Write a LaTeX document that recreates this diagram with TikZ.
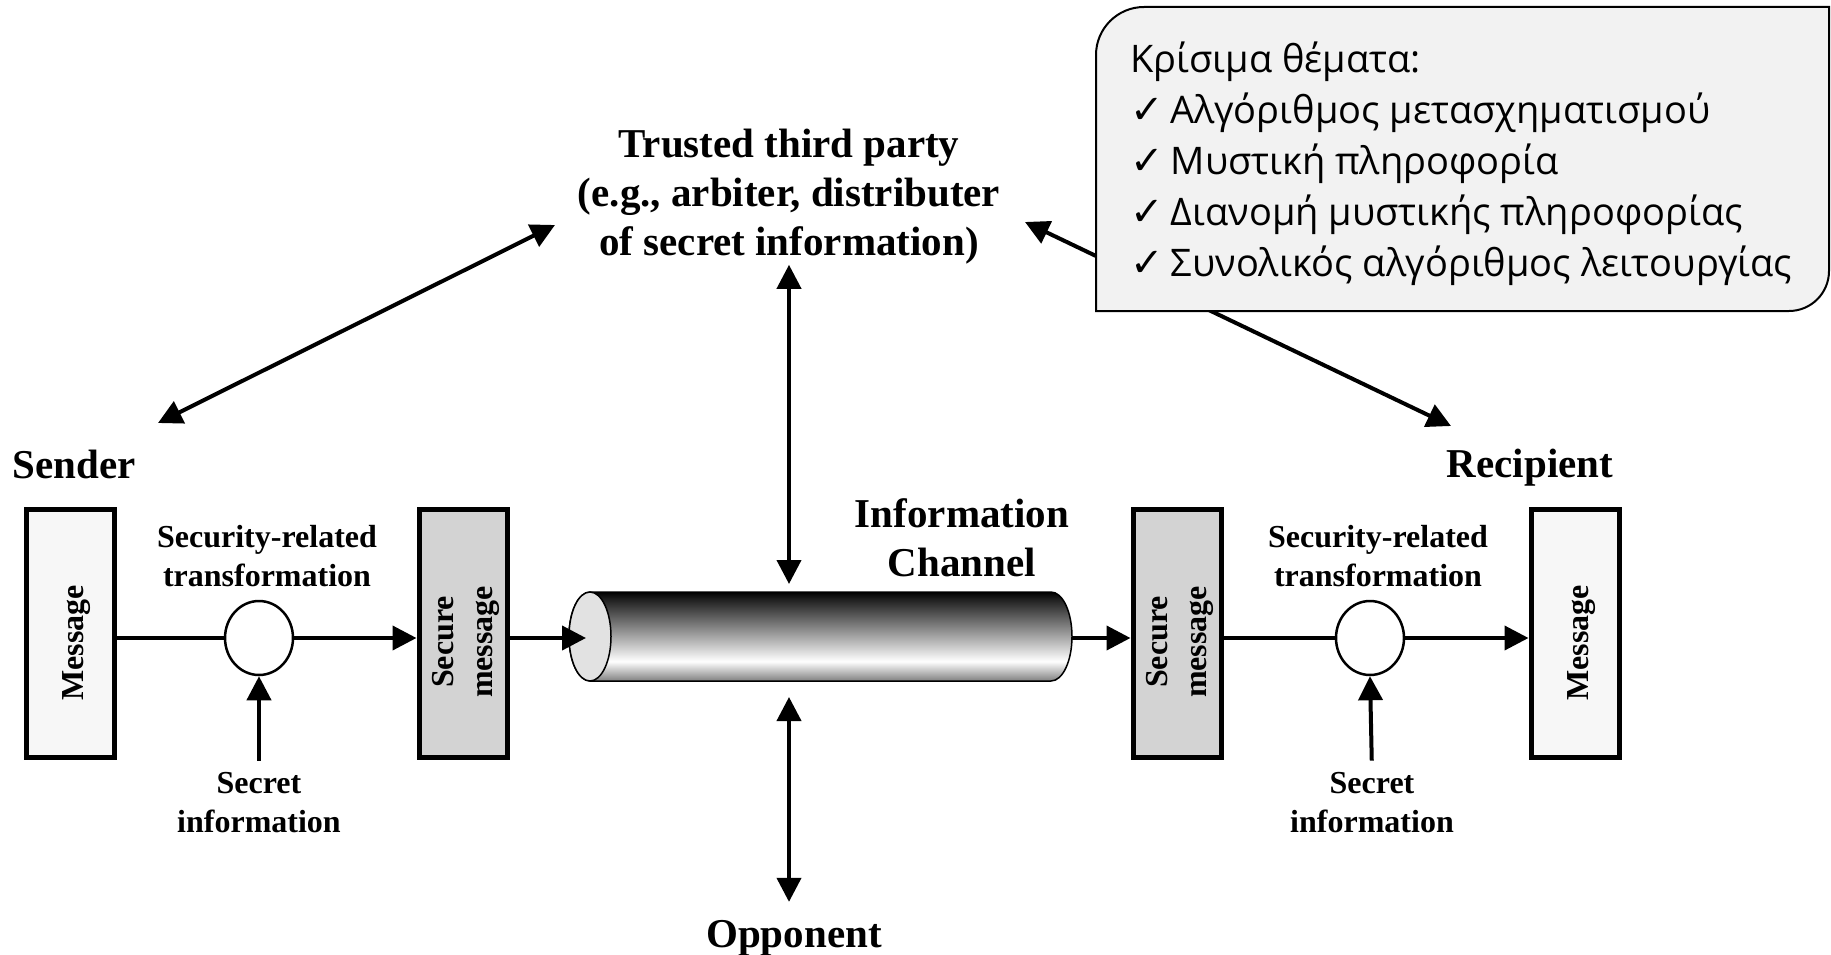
\documentclass[tikz,border=0pt]{standalone}
\usepackage{fontspec}
\setmainfont{Liberation Serif}
\newfontfamily\grkfont{Open Sans}
\newfontfamily\symfont{DejaVu Sans}
\usetikzlibrary{arrows.meta,shapes.geometric}
\definecolor{msgfill}{HTML}{F7F7F7}
\definecolor{smfill}{HTML}{D3D3D3}
\definecolor{callfill}{HTML}{F2F2F2}
\definecolor{facefill}{HTML}{E2E2E2}
\pgfdeclareverticalshading{cylshade}{100bp}{color(0bp)=(black!50); color(25bp)=(black!50); color(36bp)=(white); color(40bp)=(white!90!black); color(71bp)=(black!88); color(75bp)=(black); color(100bp)=(black)}
\newcommand{\ck}{{\symfont\fontsize{40}{40}\selectfont ✓}\hspace{7pt}}
\begin{document}
\begin{tikzpicture}[x=1pt,y=-1pt,
  big/.style={font=\fontsize{41}{49}\selectfont\bfseries, align=center, inner sep=0pt},
  small/.style={font=\fontsize{32}{39}\selectfont\bfseries, align=center, inner sep=0pt},
  vtext/.style={small, rotate=90},
  msgbox/.style={draw, line width=5pt, minimum width=88pt, minimum height=248pt, inner sep=0pt},
  xform/.style={draw, ellipse, line width=2.5pt, fill=white, minimum width=68pt, minimum height=74pt, inner sep=0pt},
  conn/.style={line width=4pt},
  arr/.style={conn, -{Triangle[length=24pt,width=24pt]}},
  darr/.style={conn, {Triangle[length=24pt,width=24pt]}-{Triangle[length=24pt,width=24pt]}}
]
\useasboundingbox (0,0) rectangle (1831,955);

% titles
\node[big] (ttp) at (789,197) {Trusted third party\\(e.g., arbiter, distributer\\of secret information)};
\node[big] (sender) at (74,464) {Sender};
\node[big] (recip) at (1530,468) {Recipient};
\node[big] (chan) at (962,538) {Information\\Channel};
\node[big] (opp) at (794,938) {Opponent};

% sender side
\node[msgbox, fill=msgfill] (m1) at (70,633) {};
\node[vtext] (m1t) at (77,643) {Message};
\node[msgbox, fill=smfill] (sm1) at (463,633) {};
\node[vtext] (sm1t) at (466,642) {Secure\\message};
\node[xform] (t1) at (259,638) {};
\node[small] (sr1) at (267,556) {Security-related\\transformation};
\node[small] (si1) at (259,803) {Secret\\information};

% recipient side
\node[msgbox, fill=smfill] (sm2) at (1177,633) {};
\node[vtext] (sm2t) at (1180,642) {Secure\\message};
\node[msgbox, fill=msgfill] (m2) at (1575,633) {};
\node[vtext] (m2t) at (1582,643) {Message};
\node[xform] (t2) at (1370,638) {};
\node[small] (sr2) at (1378,556) {Security-related\\transformation};
\node[small] (si2) at (1372,803) {Secret\\information};

% channel cylinder
\shade[shading=cylshade, draw, line width=1.5pt] (590,592) -- (1051,592)
  arc[start angle=-90, end angle=90, x radius=21, y radius=44.5]
  -- (590,681) arc[start angle=90, end angle=270, x radius=21, y radius=44.5] -- cycle;
\draw[line width=1.5pt, fill=facefill] (590,636.5) ellipse [x radius=21, y radius=44.5];
\coordinate (cylL) at (586,638);
\coordinate (cylR) at (1072,638);
\coordinate (cylT) at (789,584);
\coordinate (cylB) at (789,697);

% flow
\draw[conn] (t1.west -| m1.east) -- (t1.west);
\draw[arr] (t1.east) -- (t1.east -| sm1.west);
\draw[arr] (cylL -| sm1.east) -- (cylL);
\draw[arr] (cylR) -- (cylR -| sm2.west);
\draw[conn] (t2.west -| sm2.east) -- (t2.west);
\draw[arr] (t2.east) -- (t2.east -| m2.west);
\draw[arr, shorten <=12pt] (si1.north) -- (t1.south);
\draw[arr, shorten <=12pt] (si2.north) -- (t2.south);

% vertical arrows
\draw[darr] (ttp.south -| cylT) -- (cylT);
\draw[darr, shorten >=18pt] (cylB) -- (cylB |- opp.north);

% diagonals
\coordinate (sA) at (158,423);
\coordinate (tA) at (555,225);
\coordinate (tB) at (1025,222);
\coordinate (rB) at (1451,426);
\draw[darr] (sA) -- (tA);
\draw[darr] (tB) -- (rB);

% callout
\draw[fill=callfill, line width=2pt] (1096,311) -- (1096,55)
  arc[start angle=180, end angle=270, radius=48] -- (1829,7) -- (1829,271)
  arc[start angle=0, end angle=90, radius=40] -- cycle;
\node[anchor=north west, align=left, inner sep=0pt,
      font=\grkfont\fontsize{38}{51}\selectfont] (crit) at (1130,42)
  {Κρίσιμα θέματα:\\
   \ck Αλγόριθμος μετασχηματισμού\\
   \ck Μυστική πληροφορία\\
   \ck Διανομή μυστικής πληροφορίας\\
   \ck Συνολικός αλγόριθμος λειτουργίας};
\end{tikzpicture}
\end{document}
